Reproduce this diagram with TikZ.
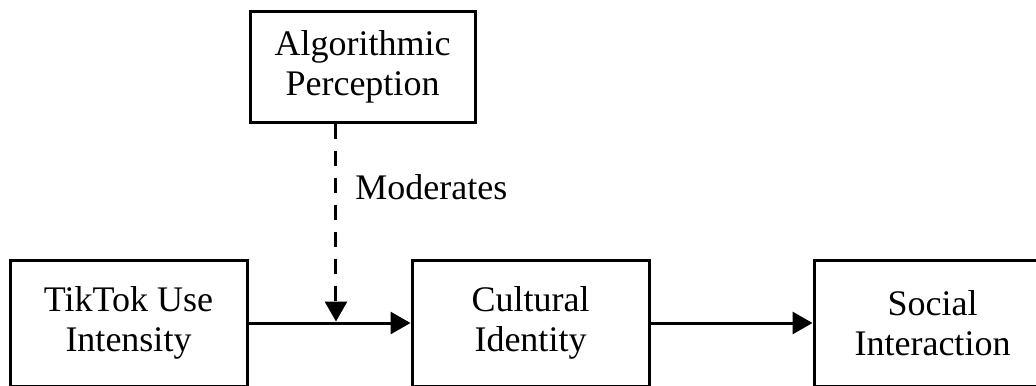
\documentclass[tikz,border=0pt]{standalone}
\usepackage{fontspec}
\setmainfont{Liberation Serif}
\usetikzlibrary{positioning,arrows.meta,calc}

\begin{document}
\begin{tikzpicture}[x=0.5pt,y=-0.5pt,
  construct/.style={draw,line width=1.5pt,minimum width=118.5pt,minimum height=63pt,
    align=center,inner sep=0pt,font=\fontsize{18}{20}\selectfont},
  effect/.style={line width=1.5pt,-{Triangle[length=10pt,width=11pt]}},
  moderation/.style={effect,dash pattern=on 7.5pt off 6pt},
  node distance=81pt]
\useasboundingbox (0,0) rectangle (1036,385);
\node[construct] (use) at (128.5,323) {TikTok Use\\Intensity};
\node[construct, right=of use] (cult) {Cultural\\Identity};
\node[construct, right=of cult] (soc) {Social\\Interaction};
\node[construct, minimum width=112.5pt, minimum height=55pt] (algo) at (362.5,67) {Algorithmic\\Perception};
\coordinate (mod) at ($(use.east)!0.54!(cult.west)$);
\draw[effect] (use) -- (cult);
\draw[effect] (cult) -- (soc);
\draw[moderation, shorten >=0.75pt] (algo.south -| mod) -- (mod)
  node[pos=0.32, right=9pt, inner sep=0pt, font=\fontsize{18}{20}\selectfont] {Moderates};
\end{tikzpicture}
\end{document}
